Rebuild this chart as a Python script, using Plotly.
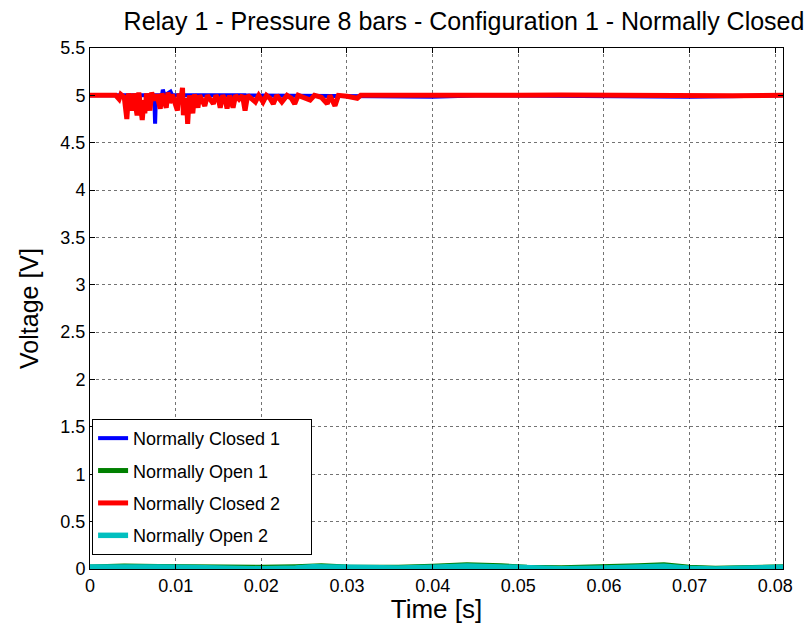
import plotly.graph_objects as go

title_text = "Relay 1 - Pressure 8 bars - Configuration 1 - Normally Closed"
series_names = ["Normally Closed 1", "Normally Open 1", "Normally Closed 2", "Normally Open 2"]
series_colors = ["#0000ff", "#008000", "#ff0000", "#00bfbf"]

x_ticks = [0, 0.01, 0.02, 0.03, 0.04, 0.05, 0.06, 0.07, 0.08]
x_ticklabels = ["0", "0.01", "0.02", "0.03", "0.04", "0.05", "0.06", "0.07", "0.08"]
y_ticks = [0, 0.5, 1, 1.5, 2, 2.5, 3, 3.5, 4, 4.5, 5, 5.5]
y_ticklabels = ["0", "0.5", "1", "1.5", "2", "2.5", "3", "3.5", "4", "4.5", "5", "5.5"]

# Normally Closed 1 (blue) : (time s, voltage V)
nc1_pts = [(0, 5.0), (0.0070, 5.0), (0.0075, 5.0), (0.0076, 4.70), (0.0077, 5.0),
           (0.0084, 5.0), (0.0085, 5.06), (0.0087, 5.0), (0.0094, 5.04), (0.0096, 5.0),
           (0.0180, 5.0), (0.0181, 4.85), (0.0183, 5.0), (0.0330, 4.99), (0.0400, 4.985),
           (0.0460, 5.0), (0.0600, 4.99), (0.0700, 4.985), (0.0810, 5.0)]

# Normally Closed 2 (red)
nc2_pts = [(0, 5.0), (0.0030, 5.0), (0.0034, 4.96), (0.0036, 5.01), (0.0040, 4.98), (0.0043, 4.75),
           (0.0045, 5.02), (0.0047, 4.93), (0.0049, 4.84), (0.0051, 5.02), (0.0053, 4.90), (0.0055, 4.79),
           (0.0057, 5.03), (0.0059, 4.92), (0.0061, 4.74), (0.0063, 4.95), (0.0064, 4.81), (0.0066, 5.02),
           (0.0068, 4.93), (0.0070, 4.84), (0.0072, 5.03), (0.0075, 4.95), (0.0078, 5.01), (0.0080, 4.90),
           (0.0082, 4.86), (0.0084, 5.02), (0.0087, 4.94), (0.0089, 4.87), (0.0091, 5.03), (0.0093, 4.92),
           (0.0096, 5.01), (0.0099, 4.93), (0.0102, 4.84), (0.0104, 5.02), (0.0106, 4.94), (0.0108, 5.08),
           (0.0109, 4.79), (0.0111, 4.97), (0.0113, 4.88), (0.0114, 4.70), (0.0116, 5.0), (0.0118, 4.90),
           (0.0120, 4.81), (0.0122, 5.01), (0.0124, 4.93), (0.0126, 4.87), (0.0128, 5.0), (0.0131, 4.94),
           (0.0134, 4.89), (0.0137, 5.0), (0.0140, 4.95), (0.0144, 4.91), (0.0147, 5.0), (0.0150, 4.96),
           (0.0152, 4.87), (0.0155, 5.0), (0.0158, 4.95), (0.0160, 4.86), (0.0163, 5.0), (0.0165, 4.94),
           (0.0167, 4.87), (0.0170, 5.0), (0.0174, 4.96), (0.0178, 5.0), (0.0181, 4.84), (0.0184, 5.0),
           (0.0188, 4.97), (0.0193, 4.93), (0.0197, 5.0), (0.0202, 4.93), (0.0206, 5.0), (0.0210, 4.97),
           (0.0214, 4.91), (0.0218, 5.0), (0.0224, 4.93), (0.0230, 5.0), (0.0235, 4.97), (0.0239, 4.91),
           (0.0243, 5.0), (0.0250, 4.98), (0.0257, 4.95), (0.0262, 5.0), (0.0270, 4.98), (0.0277, 4.91),
           (0.0280, 5.0), (0.0286, 4.89), (0.0290, 5.0), (0.0300, 4.99), (0.0312, 4.97), (0.0316, 5.0),
           (0.0330, 5.0), (0.0350, 4.99), (0.0400, 5.0), (0.0450, 4.995), (0.0500, 5.0), (0.0550, 5.005),
           (0.0600, 5.0), (0.0650, 4.995), (0.0700, 5.0), (0.0750, 4.995), (0.0810, 5.0)]

# Normally Open 1 (green)
no1_pts = [(0, 0.022), (0.004, 0.032), (0.008, 0.027), (0.012, 0.022), (0.016, 0.012), (0.018, 0.008),
           (0.020, 0.018), (0.024, 0.025), (0.027, 0.033), (0.030, 0.022), (0.033, 0.018), (0.036, 0.018),
           (0.040, 0.028), (0.044, 0.045), (0.048, 0.033), (0.051, 0.018), (0.055, 0.012), (0.060, 0.018),
           (0.064, 0.035), (0.067, 0.045), (0.070, 0.018), (0.073, 0.008), (0.076, 0.015), (0.079, 0.02),
           (0.081, 0.024)]

# Normally Open 2 (cyan)
no2_pts = [(0, 0.02), (0.004, 0.025), (0.008, 0.022), (0.012, 0.015), (0.016, 0.003), (0.018, 0.0),
           (0.020, 0.003), (0.024, 0.01), (0.026, 0.025), (0.030, 0.018), (0.033, 0.01), (0.036, 0.01),
           (0.040, 0.018), (0.044, 0.032), (0.048, 0.022), (0.051, 0.008), (0.055, 0.003), (0.060, 0.01),
           (0.064, 0.025), (0.067, 0.028), (0.070, 0.008), (0.073, 0.0), (0.076, 0.008), (0.079, 0.015),
           (0.081, 0.02)]

all_series = [nc1_pts, no1_pts, nc2_pts, no2_pts]
widths = [4, 5, 5, 5.5]

fig = go.Figure()
for name, color, pts, w in zip(series_names, series_colors, all_series, widths):
    fig.add_trace(go.Scatter(
        x=[p[0] for p in pts], y=[p[1] for p in pts], mode="lines",
        name=name + "\u00a0" * 5,
        legendgroup=name,
        line=dict(color=color, width=w),
    ))

axis_common = dict(
    showline=True, linecolor="black", linewidth=1, mirror="ticks",
    ticks="inside", ticklen=5, tickcolor="black", automargin=False,
    showgrid=True, gridcolor="rgba(0,0,0,0.55)", gridwidth=1, griddash="dot",
    zeroline=False, tickfont=dict(family="Arial", size=18, color="black"),
)

fig.update_layout(
    width=812, height=624,
    margin=dict(l=90, r=29, t=48, b=55),
    paper_bgcolor="white", plot_bgcolor="white",
    title=dict(text=title_text, font=dict(family="Arial", size=25, color="black"),
               x=464 / 812, xanchor="center", y=1 - 21 / 624, yanchor="middle"),
    xaxis=dict(axis_common, range=[0, 0.0809], tickvals=x_ticks, ticktext=x_ticklabels,
               title=dict(text="Time [s]", font=dict(family="Arial", size=26, color="black"), standoff=0)),
    yaxis=dict(axis_common, range=[0, 5.5], tickvals=y_ticks, ticktext=y_ticklabels,
               title=dict(text="Voltage [V]", font=dict(family="Arial", size=25, color="black"), standoff=14)),
    legend=dict(x=0.003, y=0.027, xanchor="left", yanchor="bottom",
                bgcolor="white", bordercolor="black", borderwidth=1,
                font=dict(family="Arial", size=18, color="black"),
                tracegroupgap=6, itemwidth=30),
    showlegend=True,
)

fig.write_html("out.html")
